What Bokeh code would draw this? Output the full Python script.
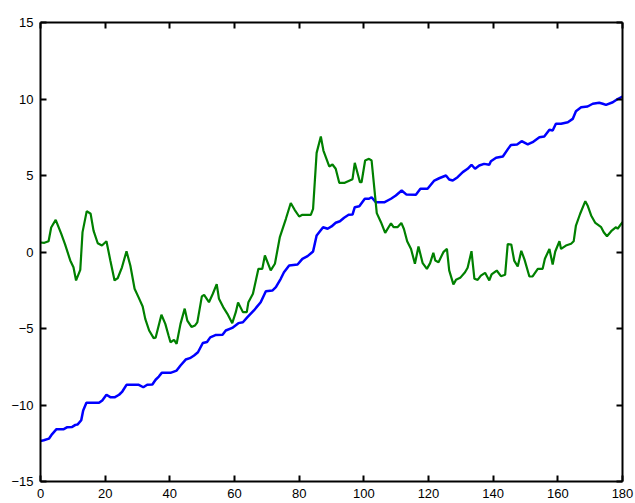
from bokeh.plotting import figure
from bokeh.models import Range1d, LinearAxis, FixedTicker
from bokeh.embed import file_html
from bokeh.resources import INLINE

# Green series (vertices)
green_x = [0, 1.2, 2.5, 3.3, 4.7, 6.4, 7.6, 9.2, 10.2, 11.0, 12.3, 13.0, 14.3, 15.5, 16.4, 17.7, 19.0,
           20.4, 21.6, 22.9, 23.9, 25.2, 26.6, 27.8, 29.1, 30.3, 31.6, 32.4, 33.6, 35.0, 35.6, 37.4,
           38.6, 39.6, 40.2, 41.3, 42.1, 43.3, 44.6, 45.4, 46.7, 47.8, 48.5, 49.9, 50.6, 52.1, 53.3,
           54.5, 55.2, 56.5, 57.8, 59.3, 60.4, 61.1, 62.6, 63.8, 64.3, 65.7, 67.4, 68.6, 69.4, 71.2,
           72.5, 74.0, 75.9, 77.4, 78.6, 80.0, 81.0, 83.6, 84.3, 85.4, 86.7, 87.5, 89.3, 90.3, 91.3,
           92.4, 94.1, 96.5, 97.2, 98.8, 99.3, 100.4, 101.6, 102.4, 104.0, 105.3, 106.6, 108.4, 109.2,
           110.4, 111.6, 112.4, 113.4, 114.6, 115.8, 116.9, 118.2, 119.5, 120.5, 121.5, 122.1, 123.1,
           124.6, 125.7, 126.4, 127.7, 128.5, 129.8, 131.3, 132.1, 133.3, 134.2, 135.2, 136.2, 137.5,
           138.8, 139.5, 141.1, 142.4, 143.7, 144.5, 145.6, 146.5, 147.6, 148.7, 149.7, 151.2, 152.2,
           153.8, 155.3, 156.0, 157.4, 158.4, 159.2, 160.5, 161.0, 162.5, 164.1, 164.9, 165.6, 166.9,
           168.5, 169.2, 170.3, 171.6, 173.4, 174.2, 175.2, 176.5, 178.0, 178.5, 180.0]
green_y = [0.62, 0.6, 0.7, 1.6, 2.1, 1.2, 0.5, -0.55, -1.0, -1.86, -1.17, 1.3, 2.67, 2.5, 1.4, 0.57, 0.42,
           0.7, -0.55, -1.86, -1.7, -1.0, 0.05, -0.9, -2.4, -2.95, -3.56, -4.37, -5.13, -5.63, -5.6, -4.1,
           -4.7, -5.46, -5.9, -5.74, -6.0, -4.7, -3.7, -4.48, -4.9, -4.8, -4.6, -2.9, -2.8, -3.28, -2.73,
           -2.1, -3.06, -3.6, -4.04, -4.65, -3.93, -3.3, -3.93, -3.93, -3.28, -2.73, -1.1, -1.1, -0.23, -1.2,
           -0.77, 0.95, 2.17, 3.2, 2.76, 2.32, 2.43, 2.43, 2.82, 6.48, 7.55, 6.63, 5.59, 5.72, 5.44,
           4.52, 4.52, 4.76, 5.83, 4.56, 4.56, 5.98, 6.09, 5.98, 2.54, 1.95, 1.25, 1.88, 1.62,
           1.62, 1.9, 1.5, 0.7, 0.2, -0.77, 0.36, -0.73, -1.1, -0.73, -0.05, -0.56, -0.67,
           -0.01, 0.2, -1.2, -2.12, -1.82, -1.69, -1.32, -1.03, 0.05, -1.75, -1.82, -1.54, -1.36,
           -1.86, -1.47, -1.21, -1.58, -1.49, 0.52, 0.49, -0.56, -0.95, 0.08, -0.5, -1.6, -1.6,
           -1.1, -1.1, -0.44, 0.2, -0.82, 0.03, 0.7, 0.2, 0.42, 0.54, 0.7, 1.73, 2.5,
           3.32, 3.04, 2.39, 1.9, 1.62, 1.29, 1.03, 1.36, 1.62, 1.52, 1.95]

# Blue series (vertices)
blue_x = [0, 1.0, 2.6, 3.6, 4.95, 7.2, 8.3, 9.8, 10.8, 11.5, 12.6, 13.2, 14.2, 18.1, 19.1, 20.4, 21.7,
          22.9, 24.3, 25.3, 26.6, 30.4, 31.8, 33.0, 34.6, 35.6, 36.6, 37.5, 40.2, 42.1, 43.3, 44.9,
          46.2, 47.5, 48.7, 50.2, 51.5, 52.5, 54.1, 56.3, 57.3, 59.3, 61.2, 62.6, 64.0, 66.0, 68.1,
          69.7, 71.7, 72.8, 74.3, 75.3, 76.9, 79.5, 81.0, 82.6, 84.3, 85.4, 87.4, 88.8, 90.0, 91.3,
          92.6, 93.9, 95.3, 96.5, 97.2, 98.6, 100.3, 101.6, 102.4, 103.7, 106.3, 108.4, 109.9, 111.7,
          113.2, 116.1, 117.5, 119.7, 121.8, 123.3, 125.4, 126.4, 127.5, 129.0, 130.6, 132.1, 133.3,
          134.4, 135.7, 137.2, 138.8, 139.3, 140.9, 143.0, 144.6, 145.5, 147.4, 148.8, 150.7, 152.2,
          154.3, 155.8, 157.4, 158.4, 159.4, 161.0, 163.1, 164.6, 165.6, 167.2, 169.2, 170.8, 172.8,
          173.9, 174.9, 177.0, 178.5, 180.0]
blue_y = [-12.35, -12.3, -12.2, -11.9, -11.58, -11.58, -11.45, -11.43, -11.3, -11.27, -11.0, -10.36, -9.86,
          -9.86, -9.7, -9.33, -9.5, -9.5, -9.33, -9.12, -8.68, -8.68, -8.84, -8.68, -8.66, -8.35, -8.14,
          -7.9, -7.9, -7.75, -7.42, -7.03, -6.94, -6.76, -6.55, -5.95, -5.88, -5.58, -5.43, -5.41, -5.13,
          -4.96, -4.65, -4.59, -4.26, -3.82, -3.28, -2.56, -2.52, -2.3, -1.75, -1.32, -0.88, -0.82, -0.45,
          -0.27, 0.03, 1.08, 1.62, 1.52, 1.67, 1.91, 2.01, 2.24, 2.43, 2.45, 2.93, 2.99, 3.48, 3.48,
          3.58, 3.25, 3.25, 3.48, 3.69, 4.02, 3.75, 3.74, 4.13, 4.13, 4.67, 4.82, 5.0, 4.74, 4.67,
          4.89, 5.22, 5.44, 5.7, 5.44, 5.65, 5.76, 5.7, 5.93, 6.16, 6.24, 6.74, 7.0, 7.03, 7.24,
          7.03, 7.18, 7.5, 7.55, 7.99, 7.94, 8.38, 8.38, 8.48, 8.7, 9.2, 9.46, 9.51, 9.69, 9.75,
          9.69, 9.62, 9.79, 10.0, 10.16]

x_ticks = [0, 20, 40, 60, 80, 100, 120, 140, 160, 180]
y_ticks = [-15, -10, -5, 0, 5, 10, 15]

p = figure(width=635, height=503, output_backend="svg", toolbar_location=None,
           x_range=Range1d(0, 180), y_range=Range1d(-15, 15),
           min_border_left=40, min_border_right=13, min_border_top=22, min_border_bottom=22)
p.xgrid.visible = False
p.ygrid.visible = False
p.outline_line_color = None
p.background_fill_color = "white"
p.border_fill_color = "white"

def style(ax, labels=True):
    ax.axis_line_color = "black"
    ax.axis_line_width = 2
    ax.major_tick_line_color = "black"
    ax.major_tick_line_width = 2
    ax.major_tick_in = 6
    ax.major_tick_out = 0
    ax.minor_tick_line_color = None
    ax.major_label_text_font = "Liberation Sans"
    ax.major_label_text_font_size = "13px" if labels else "0px"
    ax.major_label_text_color = "black" if labels else None
    ax.major_label_standoff = 7

p.xaxis.ticker = FixedTicker(ticks=x_ticks)
p.yaxis.ticker = FixedTicker(ticks=y_ticks)
for ax in p.xaxis + p.yaxis:
    style(ax)

top = LinearAxis(ticker=FixedTicker(ticks=x_ticks))
style(top, labels=False)
p.add_layout(top, "above")
right = LinearAxis(ticker=FixedTicker(ticks=y_ticks))
style(right, labels=False)
p.add_layout(right, "right")

p.line(blue_x, blue_y, line_color="#0000FF", line_width=2.5)
p.line(green_x, green_y, line_color="#008000", line_width=2.2)

open("out.html", "w").write(file_html(p, INLINE))
